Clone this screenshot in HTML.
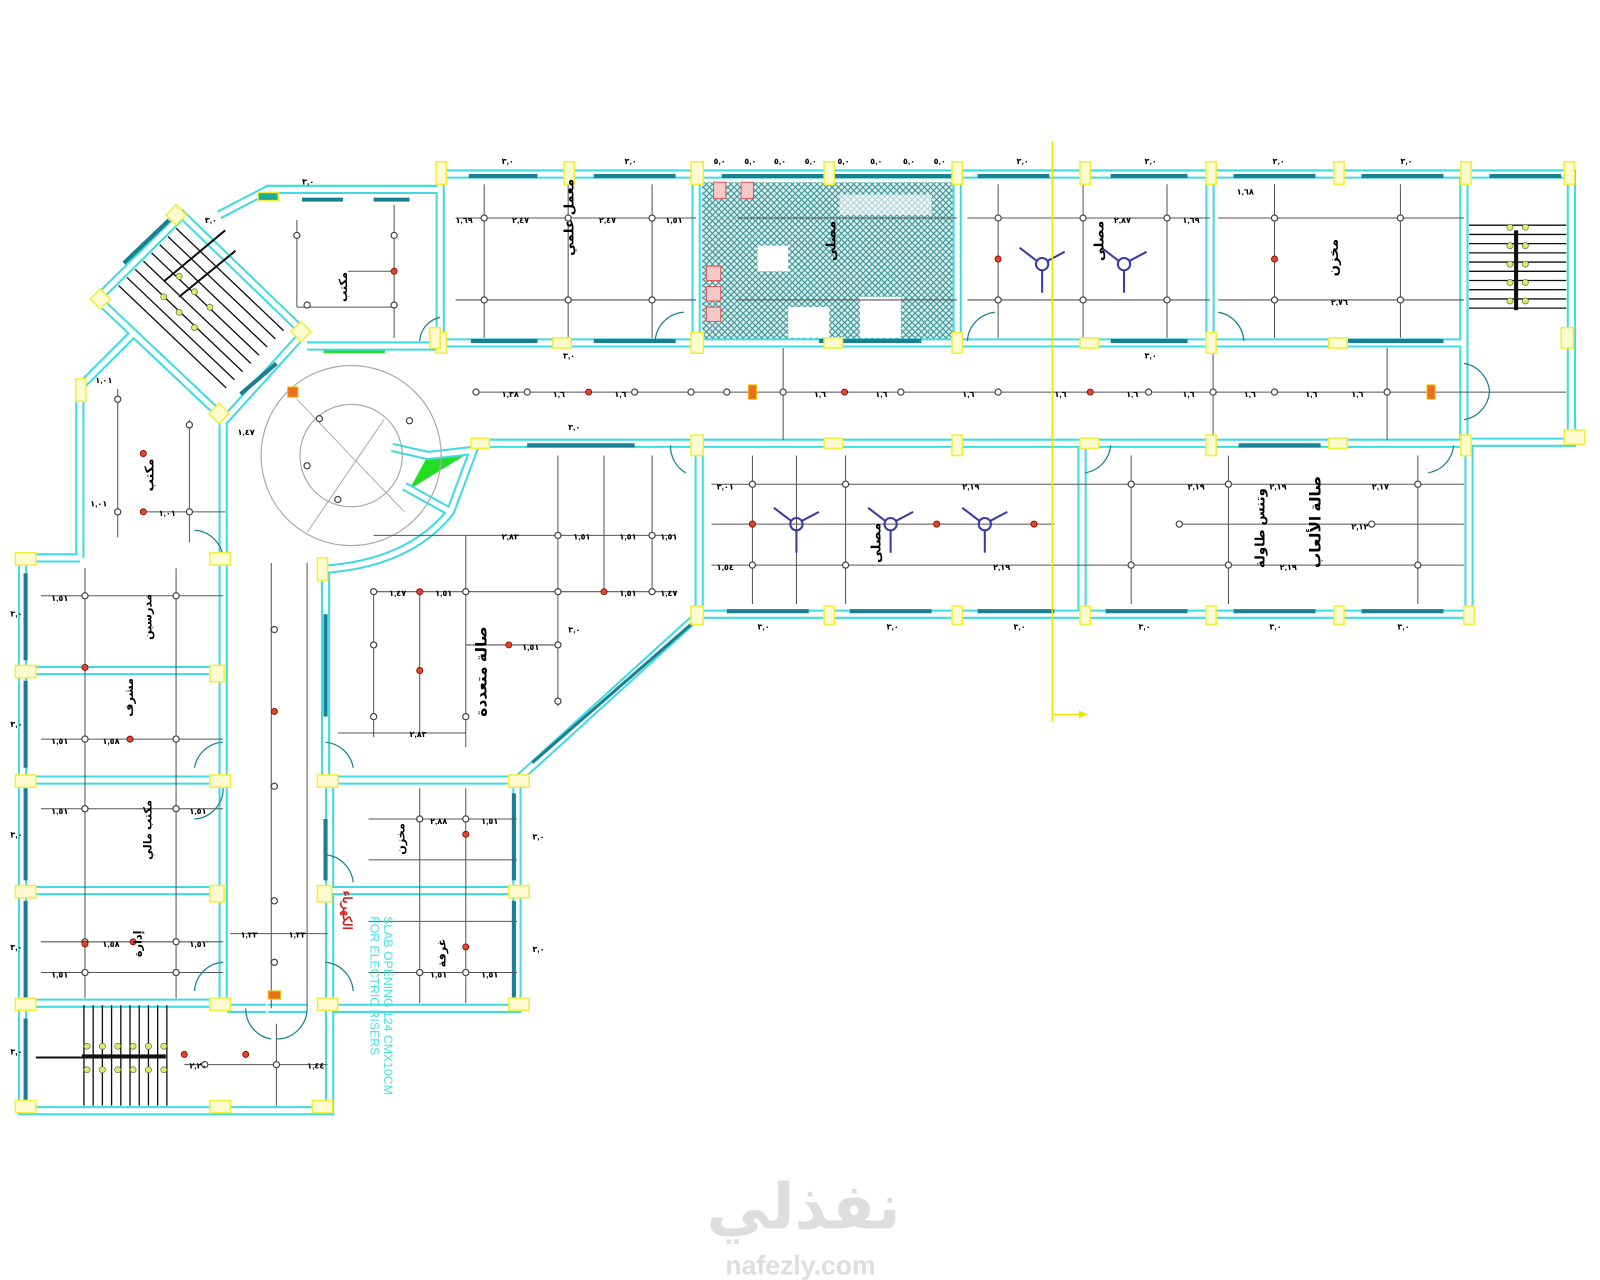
<!DOCTYPE html>
<html><head><meta charset="utf-8"><style>
html,body{margin:0;padding:0;background:#fff;width:1600px;height:1280px;overflow:hidden}
svg{display:block}
.wo{fill:none;stroke:#3fdbe0;stroke-width:9}
.wi{fill:none;stroke:#fff;stroke-width:5}
.win{stroke:#1a7f92;stroke-width:4}
.col{fill:#fffbd0;stroke:#f2ee3c;stroke-width:1.5}
.g{stroke:#555;stroke-width:1;fill:none}
.d{fill:#fff;stroke:#444;stroke-width:1.2}
.r{fill:#d94a2a;stroke:#800;stroke-width:.8}
.t{font-family:"Liberation Sans","DejaVu Sans",sans-serif;font-size:8px;fill:#000;font-weight:bold}
.ar{font-family:"Liberation Sans","Noto Sans CJK SC","DejaVu Sans",sans-serif;font-size:15px;fill:#000;font-weight:bold}
</style></head><body>
<svg width="1600" height="1280" viewBox="0 0 1600 1280" xmlns="http://www.w3.org/2000/svg">
<defs>
<pattern id="h" width="6" height="6" patternUnits="userSpaceOnUse">
<path d="M0,0L6,6M6,0L0,6" stroke="#2a8f8f" stroke-width="1"/>
</pattern>
</defs>
<g transform="scale(1.0237)">
<rect x="686" y="178" width="248" height="154" fill="#dfeeee"/>
<rect x="686" y="178" width="248" height="154" fill="url(#h)"/>
<rect x="740" y="240" width="30" height="25" fill="#fff"/><rect x="770" y="300" width="40" height="30" fill="#fff"/><rect x="840" y="290" width="40" height="40" fill="#fff"/><rect x="820" y="190" width="90" height="20" fill="#fff" opacity=".6"/>
<g fill="#f6c9c9" stroke="#d55"><rect x="690" y="260" width="14" height="14"/><rect x="690" y="280" width="14" height="14"/><rect x="690" y="300" width="14" height="14"/><rect x="697" y="178" width="12" height="16"/><rect x="724" y="178" width="12" height="16"/></g>
<path d="M462,440 L400,478 L418,445Z" fill="#22dd22"/>
<path d="M316,337 h60 v8 h-60z" fill="#22dd22"/>
<g>
<path class="wo" d="M430,170 H1535 V432 H1430 M430,170 V337 M430,335 H1430 M680,170 V337 M935,170 V337 M1182,170 V337 M1430,170 V432 M465,433 H1430 M683,433 V600 H1435 V433 M1057,433 V600 M465,433 L440,500 Q400,550 318,556 M383,437 L418,445 L462,440 M395,475 L440,500 M430,185 H262 L214,210 M300,338 H430 M178,210 L297,325 L220,410 L95,292 Z M130,326 L78,378 V545 M78,545 H22 V1085 H322 V760 M218,410 V985 M318,556 V760 M22,655 H218 M22,762 H218 M22,870 H218 M22,980 H218 M318,762 H505 V985 H318 M318,870 H505 M505,762 L683,600 M262,985 H300 M260,985 H222"/>
<path class="wi" d="M430,170 H1535 V432 H1430 M430,170 V337 M430,335 H1430 M680,170 V337 M935,170 V337 M1182,170 V337 M1430,170 V432 M465,433 H1430 M683,433 V600 H1435 V433 M1057,433 V600 M465,433 L440,500 Q400,550 318,556 M383,437 L418,445 L462,440 M395,475 L440,500 M430,185 H262 L214,210 M300,338 H430 M178,210 L297,325 L220,410 L95,292 Z M130,326 L78,378 V545 M78,545 H22 V1085 H322 V760 M218,410 V985 M318,556 V760 M22,655 H218 M22,762 H218 M22,870 H218 M22,980 H218 M318,762 H505 V985 H318 M318,870 H505 M505,762 L683,600 M262,985 H300 M260,985 H222"/>
</g>
<g class="win">
<path d="M458,172H525M580,172H660M705,172H930M955,172H1025M1085,172H1160M1205,172H1285M1330,172H1410M1455,172H1525M460,333H525M580,333H660M800,333H900M1085,333H1160M1310,333H1410M515,435H620M1210,435H1290M710,597H790M830,597H910M955,597H1030M1080,597H1160M1205,597H1285M1330,597H1410M25,560V645M25,665V750M25,770V860M25,880V975M25,995V1080M502,775V860M502,880V975M318,600V700M318,800V860M295,195H335M365,195H400M121,257L165,215M235,385L270,355"/>
<path d="M520,745L675,610" stroke-width="3"/>
</g>
<g stroke="#111" stroke-width="1.3">
<path d="M140,255L245,355M148,247L253,347M156,239L261,339M164,231L269,331M172,223L277,323M132,263L237,363M124,271L229,371M116,279L221,379"/>
</g>
<path d="M160,275L220,225M175,290L230,245" stroke="#111" stroke-width="2"/>
<g stroke="#111" stroke-width="1.3"><path d="M1435,220H1530M1435,229H1530M1435,238H1530M1435,247H1530M1435,256H1530M1435,265H1530M1435,274H1530M1435,283H1530M1435,292H1530M1435,301H1530"/></g>
<rect x="1479" y="225" width="4" height="78" fill="#111"/>
<g stroke="#111" stroke-width="1.3"><path d="M82,982V1080M91,982V1080M100,982V1080M109,982V1080M118,982V1080M127,982V1080M136,982V1080M145,982V1080M154,982V1080M163,982V1080"/></g>
<rect x="80" y="1030" width="82" height="4" fill="#111"/><path d="M35,1033H82" stroke="#111" stroke-width="2"/>
<g fill="#d8f060" stroke="#555" stroke-width=".6"><circle cx="85" cy="1022" r="3"/><circle cx="100" cy="1022" r="3"/><circle cx="115" cy="1022" r="3"/><circle cx="130" cy="1022" r="3"/><circle cx="145" cy="1022" r="3"/><circle cx="160" cy="1022" r="3"/><circle cx="85" cy="1045" r="3"/><circle cx="100" cy="1045" r="3"/><circle cx="115" cy="1045" r="3"/><circle cx="130" cy="1045" r="3"/><circle cx="145" cy="1045" r="3"/><circle cx="160" cy="1045" r="3"/>
<circle cx="1475" cy="222" r="3"/><circle cx="1475" cy="240" r="3"/><circle cx="1475" cy="258" r="3"/><circle cx="1475" cy="276" r="3"/><circle cx="1475" cy="294" r="3"/><circle cx="1490" cy="222" r="3"/><circle cx="1490" cy="240" r="3"/><circle cx="1490" cy="258" r="3"/><circle cx="1490" cy="276" r="3"/><circle cx="1490" cy="294" r="3"/>
<circle cx="175" cy="270" r="3"/><circle cx="190" cy="285" r="3"/><circle cx="205" cy="300" r="3"/><circle cx="160" cy="290" r="3"/><circle cx="175" cy="305" r="3"/><circle cx="190" cy="320" r="3"/></g>
<circle cx="343" cy="445" r="88" fill="none" stroke="#aaa" stroke-width="1.2"/>
<circle cx="343" cy="445" r="50" fill="none" stroke="#aaa" stroke-width="1.2"/>
<path d="M290,390L395,500M375,410L300,520" stroke="#999" stroke-width=".8"/>
<g class="g">
<path d="M445,213H680M445,293H680M473,180V330M555,180V330M637,180V330M720,213H935M720,293H935M945,213H1182M945,293H1182M975,180V330M1058,180V330M1140,180V330M1190,213H1430M1190,293H1430M1245,180V330M1368,180V330M465,383H1530M765,340V430M1185,340V430M1355,340V430M695,473H1430M695,512H1030M1150,512H1430M695,552H1430M735,445V590M778,445V590M826,445V590M1105,445V590M1200,445V590M1385,445V590M365,523H660M365,578H660M455,630H545M545,445V690M590,445V580M637,445V580M365,578V720M410,578V720M455,523V730M330,716H455M115,380V525M185,410V530M140,500H220M40,582H218M40,722H218M40,790H218M40,920H218M40,950H218M83,555V975M172,555V975M265,550V985M300,550V985M360,800H505M360,840H505M410,770V980M455,770V980M360,900H505M360,950H505M225,912H320M180,1040H320M270,1000V1080M290,215V300M385,200V330M290,300H385M340,265H385"/>
</g>
<g class="d">
<circle cx="473" cy="213" r="3"/><circle cx="555" cy="213" r="3"/><circle cx="637" cy="213" r="3"/><circle cx="473" cy="293" r="3"/><circle cx="555" cy="293" r="3"/><circle cx="637" cy="293" r="3"/>
<circle cx="975" cy="213" r="3"/><circle cx="1058" cy="213" r="3"/><circle cx="1140" cy="213" r="3"/><circle cx="975" cy="293" r="3"/><circle cx="1058" cy="293" r="3"/><circle cx="1140" cy="293" r="3"/>
<circle cx="1245" cy="213" r="3"/><circle cx="1368" cy="213" r="3"/><circle cx="1245" cy="293" r="3"/><circle cx="1368" cy="293" r="3"/>
<circle cx="465" cy="383" r="3"/><circle cx="515" cy="383" r="3"/><circle cx="620" cy="383" r="3"/><circle cx="675" cy="383" r="3"/><circle cx="710" cy="383" r="3"/><circle cx="765" cy="383" r="3"/><circle cx="880" cy="383" r="3"/><circle cx="975" cy="383" r="3"/><circle cx="1122" cy="383" r="3"/><circle cx="1185" cy="383" r="3"/><circle cx="1245" cy="383" r="3"/><circle cx="1355" cy="383" r="3"/>
<circle cx="735" cy="473" r="3"/><circle cx="826" cy="473" r="3"/><circle cx="1105" cy="473" r="3"/><circle cx="1200" cy="473" r="3"/><circle cx="1385" cy="473" r="3"/><circle cx="735" cy="552" r="3"/><circle cx="826" cy="552" r="3"/><circle cx="1105" cy="552" r="3"/><circle cx="1200" cy="552" r="3"/><circle cx="1385" cy="552" r="3"/><circle cx="1152" cy="512" r="3"/><circle cx="1340" cy="512" r="3"/>
<circle cx="365" cy="578" r="3"/><circle cx="455" cy="578" r="3"/><circle cx="545" cy="523" r="3"/><circle cx="637" cy="523" r="3"/><circle cx="545" cy="578" r="3"/><circle cx="637" cy="578" r="3"/><circle cx="545" cy="630" r="3"/><circle cx="365" cy="630" r="3"/><circle cx="365" cy="700" r="3"/><circle cx="455" cy="700" r="3"/><circle cx="545" cy="685" r="3"/>
<circle cx="83" cy="582" r="3"/><circle cx="172" cy="582" r="3"/><circle cx="83" cy="722" r="3"/><circle cx="172" cy="722" r="3"/><circle cx="83" cy="790" r="3"/><circle cx="172" cy="790" r="3"/><circle cx="83" cy="920" r="3"/><circle cx="172" cy="920" r="3"/><circle cx="83" cy="950" r="3"/><circle cx="172" cy="950" r="3"/>
<circle cx="268" cy="615" r="3"/><circle cx="268" cy="768" r="3"/><circle cx="268" cy="880" r="3"/><circle cx="268" cy="940" r="3"/><circle cx="115" cy="390" r="3"/><circle cx="185" cy="415" r="3"/><circle cx="185" cy="500" r="3"/><circle cx="115" cy="500" r="3"/>
<circle cx="410" cy="800" r="3"/><circle cx="455" cy="800" r="3"/><circle cx="410" cy="950" r="3"/><circle cx="455" cy="950" r="3"/><circle cx="290" cy="230" r="3"/><circle cx="385" cy="230" r="3"/><circle cx="300" cy="298" r="3"/><circle cx="385" cy="298" r="3"/>
<circle cx="330" cy="488" r="3"/><circle cx="300" cy="455" r="3"/><circle cx="400" cy="411" r="3"/><circle cx="312" cy="409" r="3"/><circle cx="270" cy="1040" r="3"/><circle cx="200" cy="1040" r="3"/>
</g>
<g class="r"><circle cx="975" cy="253" r="3"/><circle cx="1245" cy="253" r="3"/><circle cx="575" cy="383" r="3"/><circle cx="825" cy="383" r="3"/><circle cx="1065" cy="383" r="3"/><circle cx="735" cy="512" r="3"/><circle cx="915" cy="512" r="3"/><circle cx="1010" cy="512" r="3"/><circle cx="410" cy="578" r="3"/><circle cx="590" cy="578" r="3"/><circle cx="497" cy="630" r="3"/><circle cx="410" cy="655" r="3"/><circle cx="140" cy="443" r="3"/><circle cx="140" cy="500" r="3"/><circle cx="268" cy="695" r="3"/><circle cx="83" cy="652" r="3"/><circle cx="127" cy="722" r="3"/><circle cx="83" cy="922" r="3"/><circle cx="130" cy="920" r="3"/><circle cx="455" cy="925" r="3"/><circle cx="455" cy="815" r="3"/><circle cx="240" cy="1030" r="3"/><circle cx="180" cy="1030" r="3"/><circle cx="385" cy="265" r="3"/></g>
<g fill="#e87020" stroke="#f0c000"><rect x="731" y="376" width="8" height="14"/><rect x="1394" y="376" width="8" height="14"/><rect x="281" y="378" width="10" height="10"/><rect x="262" y="968" width="12" height="8"/></g>
<g stroke="#3a3aa0" stroke-width="2" fill="none">
<g transform="translate(1018,258)"><circle r="6"/><path d="M0,6V28M-5,-3L-22,-16M5,-3L22,-12"/></g>
<g transform="translate(1098,258)"><circle r="6"/><path d="M0,6V28M-5,-3L-22,-16M5,-3L22,-12"/></g>
<g transform="translate(778,512)"><circle r="6"/><path d="M0,6V28M-5,-3L-22,-16M5,-3L22,-12"/></g>
<g transform="translate(870,512)"><circle r="6"/><path d="M0,6V28M-5,-3L-22,-16M5,-3L22,-12"/></g>
<g transform="translate(962,512)"><circle r="6"/><path d="M0,6V28M-5,-3L-22,-16M5,-3L22,-12"/></g>
</g>
<g fill="none" stroke="#1a7f92" stroke-width="1.2">
<path d="M640,333 A30,30 0 0 1 668,305M945,333 A30,30 0 0 1 972,305M1215,333 A30,30 0 0 0 1190,305M655,435 A30,30 0 0 0 670,462M1085,435 A30,30 0 0 1 1060,462M1420,435 A30,30 0 0 1 1395,462M1430,355 A30,30 0 0 1 1455,383A30,30 0 0 1 1430,410M218,545 A30,30 0 0 0 190,518M218,725 A30,30 0 0 0 190,750M218,770 A30,30 0 0 1 190,800M218,940 A30,30 0 0 0 190,968M318,725 A30,30 0 0 1 345,750M318,835 A30,30 0 0 1 345,862M318,940 A30,30 0 0 1 345,968M240,985 A30,30 0 0 0 265,1015M300,985 A30,30 0 0 1 270,1015M410,333 A25,25 0 0 1 430,310"/>
</g>
<g class="col">
<rect x="426" y="158" width="10" height="22"/><rect x="551" y="158" width="10" height="22"/><rect x="675" y="158" width="12" height="22"/><rect x="805" y="158" width="10" height="22"/><rect x="930" y="158" width="10" height="22"/><rect x="1055" y="158" width="10" height="22"/><rect x="1178" y="158" width="10" height="22"/><rect x="1303" y="158" width="10" height="22"/><rect x="1427" y="158" width="10" height="22"/><rect x="1528" y="158" width="10" height="22"/>
<rect x="426" y="325" width="10" height="20"/><rect x="540" y="330" width="18" height="10"/><rect x="675" y="325" width="12" height="20"/><rect x="805" y="330" width="18" height="10"/><rect x="930" y="325" width="10" height="20"/><rect x="1055" y="330" width="18" height="10"/><rect x="1178" y="325" width="10" height="20"/><rect x="1298" y="330" width="18" height="10"/><rect x="1525" y="320" width="12" height="20"/><rect x="1528" y="420" width="20" height="14"/>
<rect x="675" y="425" width="12" height="20"/><rect x="805" y="428" width="18" height="10"/><rect x="930" y="425" width="10" height="20"/><rect x="1055" y="428" width="18" height="10"/><rect x="1178" y="425" width="10" height="20"/><rect x="1298" y="428" width="18" height="10"/><rect x="1427" y="425" width="10" height="20"/><rect x="460" y="428" width="18" height="10"/>
<rect x="675" y="592" width="12" height="18"/><rect x="805" y="592" width="10" height="18"/><rect x="930" y="592" width="10" height="18"/><rect x="1055" y="592" width="10" height="18"/><rect x="1178" y="592" width="10" height="18"/><rect x="1303" y="592" width="10" height="18"/><rect x="1430" y="592" width="10" height="18"/>
<rect x="15" y="540" width="20" height="12"/><rect x="15" y="650" width="20" height="12"/><rect x="15" y="757" width="20" height="12"/><rect x="15" y="865" width="20" height="12"/><rect x="15" y="975" width="20" height="12"/><rect x="15" y="1075" width="20" height="12"/><rect x="205" y="540" width="20" height="12"/><rect x="205" y="650" width="14" height="16"/><rect x="205" y="757" width="20" height="12"/><rect x="205" y="865" width="14" height="16"/><rect x="205" y="975" width="20" height="12"/><rect x="205" y="1075" width="20" height="12"/><rect x="305" y="1075" width="20" height="12"/>
<rect x="310" y="545" width="10" height="22"/><rect x="310" y="757" width="20" height="12"/><rect x="310" y="865" width="14" height="16"/><rect x="310" y="975" width="20" height="12"/><rect x="497" y="757" width="20" height="12"/><rect x="497" y="865" width="20" height="12"/><rect x="497" y="975" width="20" height="12"/><rect x="74" y="370" width="10" height="22"/><rect x="420" y="320" width="10" height="20"/><rect x="252" y="188" width="20" height="8" fill="#2a9"/>
<rect x="165" y="203" width="14" height="14" transform="rotate(45 172 210)"/><rect x="91" y="285" width="14" height="14" transform="rotate(45 98 292)"/><rect x="287" y="317" width="14" height="14" transform="rotate(45 294 324)"/><rect x="207" y="397" width="14" height="14" transform="rotate(45 214 404)"/>
</g>
<path d="M1028,138V705M1028,698H1062" stroke="#e8e800" stroke-width="1.6"/>
<path d="M1062,698l-8,-4v8z" fill="#e8e800"/>
<g class="t">
<text x="490" y="160">٣,٠</text><text x="610" y="160">٣,٠</text><text x="697" y="160">٥,٠</text><text x="727" y="160">٥,٠</text><text x="756" y="160">٥,٠</text><text x="786" y="160">٥,٠</text><text x="818" y="160">٥,٠</text><text x="850" y="160">٥,٠</text><text x="882" y="160">٥,٠</text><text x="912" y="160">٥,٠</text><text x="993" y="160">٣,٠</text><text x="1118" y="160">٣,٠</text><text x="1243" y="160">٣,٠</text><text x="1368" y="160">٣,٠</text>
<text x="500" y="218">٢,٤٧</text><text x="585" y="218">٢,٤٧</text><text x="445" y="218">١,٦٩</text><text x="650" y="218">١,٥١</text><text x="1088" y="218">٢,٨٧</text><text x="1155" y="218">١,٦٩</text><text x="1300" y="298">٢,٧٦</text><text x="1208" y="190">١,٦٨</text>
<text x="795" y="388">١,٦</text><text x="855" y="388">١,٦</text><text x="940" y="388">١,٦</text><text x="1030" y="388">١,٦</text><text x="1100" y="388">١,٦</text><text x="1155" y="388">١,٦</text><text x="1215" y="388">١,٦</text><text x="1275" y="388">١,٦</text><text x="1320" y="388">١,٦</text><text x="490" y="388">١,٣٨</text><text x="540" y="388">١,٦</text><text x="600" y="388">١,٦</text>
<text x="940" y="478">٢,١٩</text><text x="1160" y="478">٢,١٩</text><text x="1240" y="478">٢,١٩</text><text x="1340" y="478">٢,١٧</text><text x="970" y="557">٢,١٩</text><text x="1250" y="557">٢,١٩</text><text x="1320" y="517">٢,١٢</text><text x="700" y="478">٣,٠١</text><text x="700" y="557">١,٥٤</text>
<text x="490" y="527">٢,٨٣</text><text x="560" y="527">١,٥١</text><text x="605" y="527">١,٥١</text><text x="645" y="527">١,٥١</text><text x="380" y="582">١,٤٧</text><text x="425" y="582">١,٥١</text><text x="605" y="582">١,٥١</text><text x="645" y="582">١,٤٧</text><text x="510" y="635">١,٥١</text><text x="400" y="720">٢,٨٣</text>
<text x="50" y="587">١,٥١</text><text x="50" y="727">١,٥١</text><text x="100" y="727">١,٥٨</text><text x="50" y="795">١,٥١</text><text x="185" y="795">١,٥١</text><text x="100" y="925">١,٥٨</text><text x="50" y="955">١,٥١</text><text x="185" y="925">١,٥١</text><text x="235" y="916">١,٣٣</text><text x="282" y="916">١,٣٣</text><text x="300" y="1044">١,٤٤</text><text x="185" y="1044">٢,٢٠</text>
<text x="470" y="805">١,٥١</text><text x="420" y="805">٢,٨٨</text><text x="470" y="955">١,٥١</text><text x="420" y="955">١,٥١</text><text x="93" y="374">١,٠١</text><text x="155" y="504">١,٠١</text><text x="88" y="495">١,٠١</text><text x="232" y="425">١,٤٧</text>
<text x="10" y="602">٣,٠</text><text x="10" y="710">٣,٠</text><text x="10" y="818">٣,٠</text><text x="10" y="928">٣,٠</text><text x="10" y="1030">٣,٠</text><text x="520" y="820">٣,٠</text><text x="520" y="930">٣,٠</text><text x="200" y="218">٣,٠</text><text x="295" y="180">٣,٠</text><text x="555" y="618">٣,٠</text><text x="555" y="420">٣,٠</text>
<text x="1112" y="615">٣,٠</text><text x="1240" y="615">٣,٠</text><text x="1365" y="615">٣,٠</text><text x="866" y="615">٣,٠</text><text x="990" y="615">٣,٠</text><text x="740" y="615">٣,٠</text><text x="1118" y="350">٣,٠</text><text x="550" y="350">٣,٠</text>
</g>
<g class="ar">
<text transform="translate(560,250) rotate(-90)" font-size="13">معمل علمي</text>
<text transform="translate(1307,270) rotate(-90)" font-size="13">مخزن</text>
<text transform="translate(1078,255) rotate(-90)" font-size="13">مصلى</text>
<text transform="translate(816,255) rotate(-90)" font-size="13">مصلى</text>
<text transform="translate(339,295) rotate(-90)" font-size="11">مكتب</text>
<text transform="translate(1290,555) rotate(-90)" font-size="15">صالة الألعاب</text>
<text transform="translate(1235,555) rotate(-90)" font-size="13">وتنس طاولة</text>
<text transform="translate(860,550) rotate(-90)" font-size="13">مصلى</text>
<text transform="translate(475,700) rotate(-90)" font-size="15">صالة متعددة</text>
<text transform="translate(150,480) rotate(-90)" font-size="12">مكتب</text>
<text transform="translate(148,625) rotate(-90)" font-size="11">مدرسين</text>
<text transform="translate(130,700) rotate(-90)" font-size="11">مشرف</text>
<text transform="translate(148,840) rotate(-90)" font-size="11">مكتب مالي</text>
<text transform="translate(138,935) rotate(-90)" font-size="11">إدارة</text>
<text transform="translate(395,835) rotate(-90)" font-size="11">مخزن</text>
<text transform="translate(435,945) rotate(-90)" font-size="11">غرفة</text>
</g>
<text transform="translate(375,895) rotate(90)" font-family="Liberation Sans,sans-serif" font-size="12" fill="#4ee0e0">SLAB OPENING 124 CMX10CM</text>
<text transform="translate(362,895) rotate(90)" font-family="Liberation Sans,sans-serif" font-size="12" fill="#4ee0e0">FOR ELECTRIC RISERS</text>
<text transform="translate(335,870) rotate(90)" font-family="Liberation Sans,sans-serif" font-size="12" fill="#d02020" font-weight="bold">الكهرباء</text>
<text x="785" y="1200" text-anchor="middle" font-family="DejaVu Sans,'Noto Sans CJK SC',sans-serif" font-weight="bold" font-size="62" fill="#dedede">نفذلي</text>
<text x="782" y="1245" text-anchor="middle" font-family="Liberation Sans,sans-serif" font-weight="bold" font-size="26" fill="#dedede">nafezly.com</text>
</g>
</svg>
</body></html>
